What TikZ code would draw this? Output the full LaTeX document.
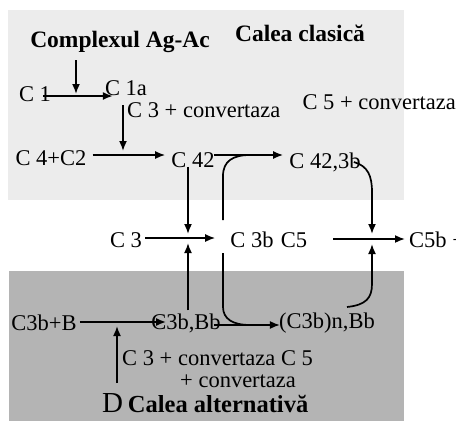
\documentclass[tikz,border=0pt]{standalone}
\usepackage{fontspec}
\setmainfont{Liberation Serif}
\usetikzlibrary{arrows.meta,calc}
\definecolor{topbg}{HTML}{ECECEC}
\definecolor{botbg}{HTML}{B4B4B4}
\tikzset{
  lbl/.style={inner sep=0pt, font=\fontsize{22.5}{24}\selectfont},
  head/.style={inner sep=0pt, font=\fontsize{23.5}{25}\selectfont\bfseries},
  arr/.style={line width=1.7pt, -{Latex[length=10pt,width=8pt]}},
  ln/.style={line width=1.7pt},
}
\begin{document}
\begin{tikzpicture}[x=1pt,y=-1pt]
\useasboundingbox (0,0) rectangle (456,421);
% backgrounds
\fill[topbg] (8,10) rectangle (404,200);
\fill[botbg] (9,271) rectangle (404,421);
% headings
\node[head] (hAg) at (120,42) {Complexul Ag-Ac};
\node[head] (hCl) at (300,33) {Calea clasică};
\node[inner sep=0pt, anchor=base west] (hAlt) at (102,412) {\fontsize{29}{30}\selectfont D\,\fontsize{24.5}{26}\selectfont\bfseries Calea alternativă};
% nodes
\node[lbl] (c1) at (35,94) {C 1};
\node[lbl] (c1a) at (126,88) {C 1a};
\node[lbl, anchor=west] (cv3) at (127,110) {C 3 + convertaza};
\node[lbl, anchor=east] (cv5) at (456,102) {C 5 + convertaza};
\node[lbl] (c4c2) at (51,158) {C 4+C2};
\node[lbl] (c42) at (193,160) {C 42};
\node[lbl] (c423b) at (325,162) {C 42,3b};
\node[lbl] (c3) at (126,240) {C 3};
\node[lbl] (c3b) at (252,240) {C 3b};
\node[lbl] (c5) at (294,240) {C5};
\node[lbl, anchor=west] (c5b) at (409,240) {C5b +};
\node[lbl] (c3bB) at (44,323) {C3b+B};
\node[lbl] (c3bBb) at (186,323) {C3b,Bb};
\node[lbl] (c3bn) at (327,323) {(C3b)n,Bb};
\node[lbl, anchor=west] (cvb1) at (122,358) {C 3 + convertaza C 5};
\node[lbl, anchor=west] (cvb2) at (180,381) {+ convertaza};
% junction coordinates
\coordinate (agtop) at (76,60);
\coordinate (j1) at (76,94);
\coordinate (j2) at (123,151);
\coordinate (j3) at (188,234);
\coordinate (j4) at (188,243);
\coordinate (j5) at (372,234);
\coordinate (j6) at (372,244);
\coordinate (j7) at (117,326);
\coordinate (bt) at (117,383);
\coordinate (bpT) at (223,220);
\coordinate (bpB) at (223,253);
% connectors
\draw[arr] (agtop) -- (j1);
\draw[arr] ($(c1.east)+(-8,2)$) -- ($(c1a.west)+(8,8)$);
\draw[arr] ($(cv3.west)+(-4,-5)$) -- (j2);
\draw[arr] ($(c4c2.east)+(6,-3)$) -- ($(c42.west)+(-6,-5)$);
\draw[arr] ($(c42.east)+(-1,-5)$) -- ($(c423b.west)+(-6,-7)$);
\draw[arr] ($(c42.south)+(-5,-1)$) -- (j3);
\draw[arr] ($(c3.east)+(3,-2)$) -- ($(c3b.west)+(-15,-2)$);
\draw[arr] ($(c5.east)+(26,-1)$) -- ($(c5b.west)+(-4,-1)$);
\draw[arr] ($(c3bBb.north)+(2,-3)$) -- (j4);
\draw[arr] ($(c3bB.east)+(3,-1)$) -- ($(c3bBb.west)+(15,-1)$);
\draw[arr] ($(c3bBb.east)+(-7,2)$) -- ($(c3bn.west)+(1,2)$);
\draw[arr] (bt) -- (j7);
% bypass curves
\draw[ln] (bpT) -- (223,176) .. controls (223,161) and (233,155) .. (250,155);
\draw[ln] (bpB) -- (223,307) .. controls (223,319) and (233,325) .. (250,325);
\draw[arr] ($(c423b.east)+(-7,0)$) .. controls (368,166) and (372,176) .. (372,192) -- (j5);
\draw[arr] ($(c3bn.east)+(-28,-16)$) .. controls (366,305) and (372,298) .. (372,284) -- (j6);
\end{tikzpicture}
\end{document}
